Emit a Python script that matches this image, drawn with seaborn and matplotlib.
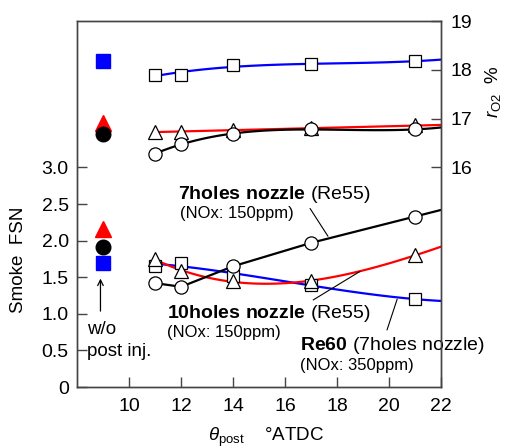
import numpy as np
import pandas as pd
import matplotlib
matplotlib.use("Agg")
import matplotlib.pyplot as plt
import seaborn as sns

# post injection timing (deg ATDC)
theta = [11, 12, 14, 17, 21]
x_end = 22
x_wo = 9  # "w/o post inj." reference position

# Smoke FSN (left axis)
fsn_7holes = [1.42, 1.37, 1.65, 1.97, 2.33]
fsn_10holes = [1.75, 1.58, 1.45, 1.45, 1.80]
fsn_re60 = [1.66, 1.70, 1.52, 1.40, 1.20]
fsn_wo = {"7holes": 1.91, "10holes": 2.16, "re60": 1.69}

# oxygen concentration r_O2 % (right axis)
ro2_7holes = [16.28, 16.48, 16.69, 16.78, 16.78]
ro2_10holes = [16.73, 16.73, 16.77, 16.80, 16.86]
ro2_re60 = [17.90, 17.90, 18.10, 18.11, 18.18]
ro2_wo = {"7holes": 16.69, "10holes": 16.92, "re60": 18.18}

left_ticks = [0, 0.5, 1.0, 1.5, 2.0, 2.5, 3.0]
left_ticklabels = ["0", "0.5", "1.0", "1.5", "2.0", "2.5", "3.0"]
right_ticks = [16, 17, 18, 19]
x_ticks = [10, 12, 14, 16, 18, 20, 22]

sns.set_style("ticks", {"xtick.direction": "in", "ytick.direction": "in"})
plt.rcParams["font.family"] = ["Liberation Sans", "DejaVu Sans"]
plt.rcParams["mathtext.fontset"] = "custom"
plt.rcParams["mathtext.rm"] = "Liberation Sans"
plt.rcParams["mathtext.it"] = "Liberation Sans:italic"
plt.rcParams["mathtext.bf"] = "Liberation Sans:bold"
plt.rcParams["text.color"] = "black"
plt.rcParams["axes.labelcolor"] = "black"

grid = np.linspace(theta[0], x_end, 120)


def fitted(y, deg):
    return np.polyval(np.polyfit(theta, y, deg), grid)


def linear_ext(y):
    slope = (y[-1] - y[-2]) / (theta[-1] - theta[-2])
    xs = theta + [x_end]
    ys = list(y) + [y[-1] + slope * (x_end - theta[-1])]
    return np.interp(grid, xs, ys)


fig = plt.figure(figsize=(5.07, 4.48), dpi=100)
ax = fig.add_axes([0.152, 0.136, 0.718, 0.817])
ax2 = ax.twinx()

series = [
    ("re60", "s", "blue", fsn_re60, ro2_re60, 8.5),
    ("10holes", "^", "red", fsn_10holes, ro2_10holes, 10.5),
    ("7holes", "o", "black", fsn_7holes, ro2_7holes, 9.5),
]

curves_fsn = {
    "re60": fitted(fsn_re60, 3),
    "10holes": fitted(fsn_10holes, 3),
    "7holes": linear_ext(fsn_7holes),
}
curves_ro2 = {
    "re60": fitted(ro2_re60, 3),
    "10holes": fitted(ro2_10holes, 1),
    "7holes": fitted(ro2_7holes, 3),
}

for key, mk, col, fsn, ro2, ms in series:
    sns.lineplot(x=grid, y=curves_fsn[key], ax=ax, color=col, lw=1.6, zorder=2, sort=False)
    sns.lineplot(x=grid, y=curves_ro2[key], ax=ax2, color=col, lw=1.6, zorder=2, sort=False)

for i, (key, mk, col, fsn, ro2, ms) in enumerate(series):
    ax.plot(theta, fsn, ls="none", marker=mk, ms=ms, mfc="white", mec="black", mew=0.9, zorder=3 + i)
    ax2.plot(theta, ro2, ls="none", marker=mk, ms=ms, mfc="white", mec="black", mew=0.9, zorder=3 + i)
    ax.plot([x_wo], [fsn_wo[key]], ls="none", marker=mk, ms=ms + 1, color=col, zorder=3 + i)
    ax2.plot([x_wo], [ro2_wo[key]], ls="none", marker=mk, ms=ms + 1, color=col, zorder=3 + i)

ax.set_xlim(8, 22)
ax.set_ylim(0, 5)
ax2.set_ylim(11.5, 19)
ax.set_xticks(x_ticks)
ax.set_yticks(left_ticks)
ax.set_yticklabels(left_ticklabels)
ax2.set_yticks(right_ticks)

for a in (ax, ax2):
    a.tick_params(direction="in", length=7, width=1, labelsize=14,
                  color="#444444", labelcolor="black")
    for s in a.spines.values():
        s.set_color("#444444")
        s.set_linewidth(1.0)
ax.tick_params(axis="x", pad=8)
ax.tick_params(axis="y", pad=6)
ax2.tick_params(axis="y", pad=7)

ax.set_ylabel("Smoke  FSN", fontsize=13.5)
ax.yaxis.set_label_coords(-0.137, 0.347)
ax2.set_ylabel(r"$r_{\rm O2}$  %", fontsize=13.5)
ax2.yaxis.set_label_coords(1.115, 0.806)
ax.set_xlabel(r"$\theta_{\rm post}$    °ATDC", fontsize=13.5)
ax.xaxis.set_label_coords(0.52, -0.105)

# annotations
ax.text(11.88, 2.63, r"$\mathbf{7holes\ nozzle}$ (Re55)", fontsize=14, va="center")
ax.text(11.96, 2.37, "(NOx: 150ppm)", fontsize=12, va="center")
ax.plot([16.96, 17.65], [2.44, 2.06], color="black", lw=0.8)

ax.text(11.46, 1.01, r"$\mathbf{10holes\ nozzle}$ (Re55)", fontsize=14, va="center")
ax.text(11.46, 0.74, "(NOx: 150ppm)", fontsize=12, va="center")
ax.plot([17.08, 18.88], [1.19, 1.58], color="black", lw=0.8)

ax.text(16.58, 0.57, r"$\mathbf{Re60}$ (7holes nozzle)", fontsize=14, va="center")
ax.text(16.58, 0.30, "(NOx: 350ppm)", fontsize=12, va="center")
ax.plot([19.92, 20.31], [0.78, 1.20], color="black", lw=0.8)

ax.text(8.38, 0.79, "w/o", fontsize=13.5, va="center")
ax.text(8.38, 0.48, "post inj.", fontsize=13.5, va="center")
ax.annotate("", xy=(8.9, 1.52), xytext=(8.9, 1.0),
            arrowprops=dict(arrowstyle="->", color="black", lw=0.9))

fig.savefig("out.png", dpi=100)
